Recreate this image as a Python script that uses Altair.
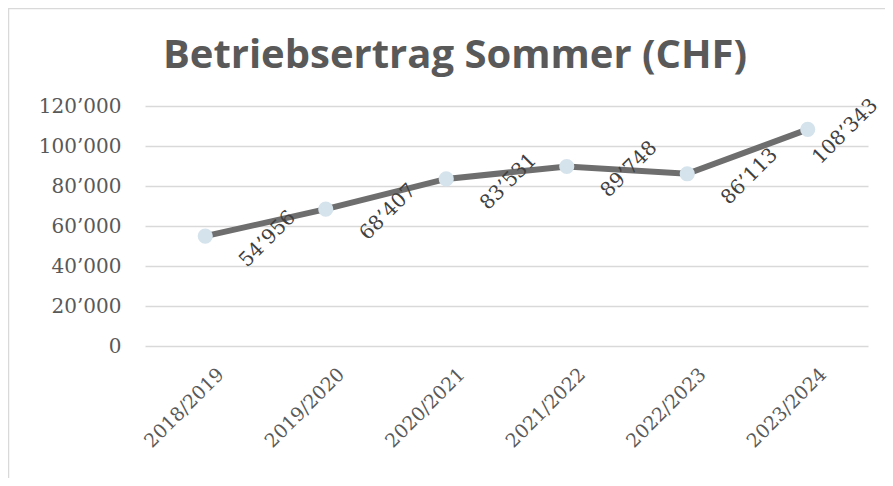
import altair as alt
import pandas as pd

seasons = ["2018/2019", "2019/2020", "2020/2021", "2021/2022", "2022/2023", "2023/2024"]
values = [54956, 68407, 83531, 89748, 86113, 108343]
y_ticks = [0, 20000, 40000, 60000, 80000, 100000, 120000]
title_text = "Betriebsertrag Sommer (CHF)"

df = pd.DataFrame({"season": seasons, "value": values})
df["label"] = [f"{v:,}".replace(",", "\u2019") for v in values]
df["last"] = [i == len(values) - 1 for i in range(len(values))]

W, H = 723, 240
PAD_L, PAD_T = 137, 98
PAD_R = 885 - 8 - PAD_L - W
PAD_B = 470 - PAD_T - H

FONT_NUM = "DejaVu Serif"
GRAY = "#595959"

x = alt.X("season:N", sort=seasons, title=None,
          scale=alt.Scale(paddingInner=0, paddingOuter=0),
          axis=alt.Axis(labelAngle=-45, labelAlign="right", labelBaseline="middle",
                        labelPadding=25, labelOffset=15, labelFont=FONT_NUM, labelFontSize=19,
                        labelColor=GRAY, ticks=False, domain=False, grid=False))
y = alt.Y("value:Q", title=None,
          scale=alt.Scale(domain=[0, 120000], nice=False),
          axis=alt.Axis(values=y_ticks, labelExpr="replace(format(datum.value, ','), ',', '\u2019')",
                        labelFont=FONT_NUM, labelFontSize=20, labelColor=GRAY,
                        labelPadding=24, ticks=False, domain=False,
                        gridColor="#d9d9d9", gridWidth=1.5))

base = alt.Chart(df)

line = base.mark_line(color="#6e6e6e", strokeWidth=6).encode(x=x, y=y)
points = base.mark_circle(color="#d5e3ec", opacity=1, size=230).encode(x=x, y=y)

# dx/dy are applied in the rotated frame (angle 315)
labels_main = base.transform_filter("!datum.last").mark_text(
    angle=315, align="center", baseline="middle", dx=42, dy=46,
    font=FONT_NUM, fontSize=20, color="#404040"
).encode(x=x, y=y, text="label:N")
labels_last = base.transform_filter("datum.last").mark_text(
    angle=315, align="center", baseline="middle", dx=25, dy=28,
    font=FONT_NUM, fontSize=20, color="#404040"
).encode(x=x, y=y, text="label:N")

border = alt.Chart(alt.Data(values=[{}])).mark_rect(
    fill=None, stroke="#d9d9d9", strokeWidth=1.5
).encode(x=alt.value(-PAD_L + 0.5), x2=alt.value(W + 200),
         y=alt.value(-PAD_T + 0.5), y2=alt.value(H + 300))

title = alt.Chart(alt.Data(values=[{"t": title_text}])).mark_text(
    font="Open Sans", fontSize=40, fontWeight="bold", color=GRAY,
    align="center", baseline="alphabetic"
).encode(x=alt.value(310), y=alt.value(-38), text="t:N")

chart = alt.layer(border, line, points, labels_main, labels_last, title).properties(
    width=W, height=H,
    autosize=alt.AutoSizeParams(type="none"),
    padding={"left": PAD_L, "top": PAD_T, "right": PAD_R, "bottom": PAD_B},
).configure(background="white").configure_view(stroke=None)

chart.save("out.html", embed_options={"renderer": "svg", "actions": False})
